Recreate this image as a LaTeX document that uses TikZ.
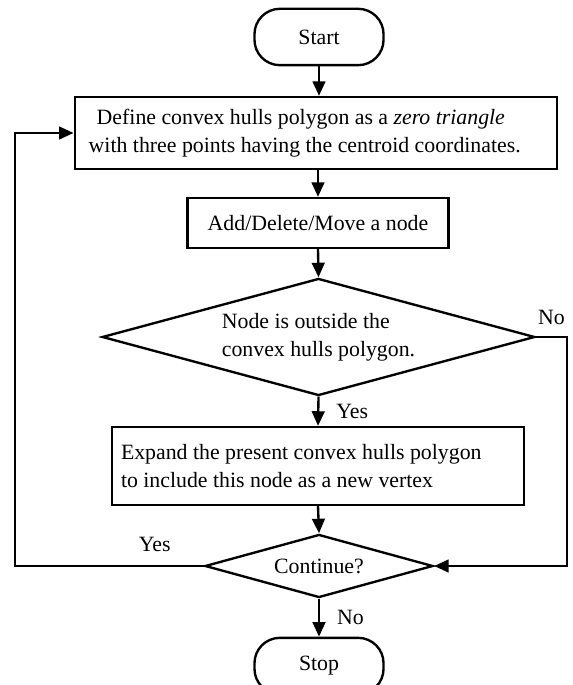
\documentclass[tikz,border=0pt]{standalone}
\usepackage{fontspec}
\setmainfont{Liberation Serif}
\usetikzlibrary{shapes.geometric,arrows.meta}

\tikzset{
  term/.style={draw, line width=1.3pt, rounded corners=14pt, minimum width=71pt, minimum height=31pt, inner sep=0pt},
  procbox/.style={draw, line width=1.3pt, inner sep=0pt, align=flush left},
  decision/.style={draw, diamond, line width=1.3pt, inner sep=0pt, align=left},
  flow/.style={line width=1.3pt, -{Triangle[length=8pt,width=7pt]}},
}

\begin{document}
\begin{tikzpicture}[x=0.55pt, y=-0.55pt, font=\fontsize{12}{15.4}\selectfont]
  \useasboundingbox (0,0) rectangle (573,685);

  % Terminals
  \node[term] (start) at (319,37) {Start};
  \node[term] (stop) at (319,666) {Stop};

  % Boxes
  \node[procbox, text width=250pt, inner xsep=7.7pt, minimum height=39.6pt] (define) at (316,133)
    {\hspace*{4.4pt}Define convex hulls polygon as a \textit{zero triangle}\\with three points having the centroid coordinates.};
  \node[procbox, minimum width=143.6pt, minimum height=27.5pt, align=center] (add) at (318,223) {Add/Delete/Move a node};
  \node[procbox, text width=216.7pt, inner xsep=5pt, minimum height=42.9pt] (expand) at (318,466)
    {Expand the present convex hulls polygon\\to include this node as a new vertex};

  % Decisions
  \node[decision, minimum width=238pt, minimum height=64.4pt, aspect=3.7] (outside) at (318.5,337)
    {Node is outside the\\convex hulls polygon.};
  \node[decision, minimum width=125.4pt, minimum height=34.7pt, aspect=3.6] (cont) at (319,566) {Continue?};

  % Main flow
  \draw[flow] (start.south) -- (start.south |- define.north);
  \draw[flow] (define.south -| add.north) -- (add.north);
  \draw[flow] (add.south) -- (outside.north);
  \draw[flow] (outside.south) -- (expand.north) node[midway, right=6pt] {Yes};
  \draw[flow] (expand.south) -- (cont.north);
  \draw[flow] (cont.south) -- (stop.north) node[midway, right=6pt] {No};

  % Side branches
  \draw[flow] (outside.east) -- ++(31,0) node[midway, above=3pt] {No} |- (cont.east);
  \draw[flow] (cont.west) -- ++(-189,0) node[pos=0.26, above=4pt] {Yes} |- (define.west);
\end{tikzpicture}
\end{document}
